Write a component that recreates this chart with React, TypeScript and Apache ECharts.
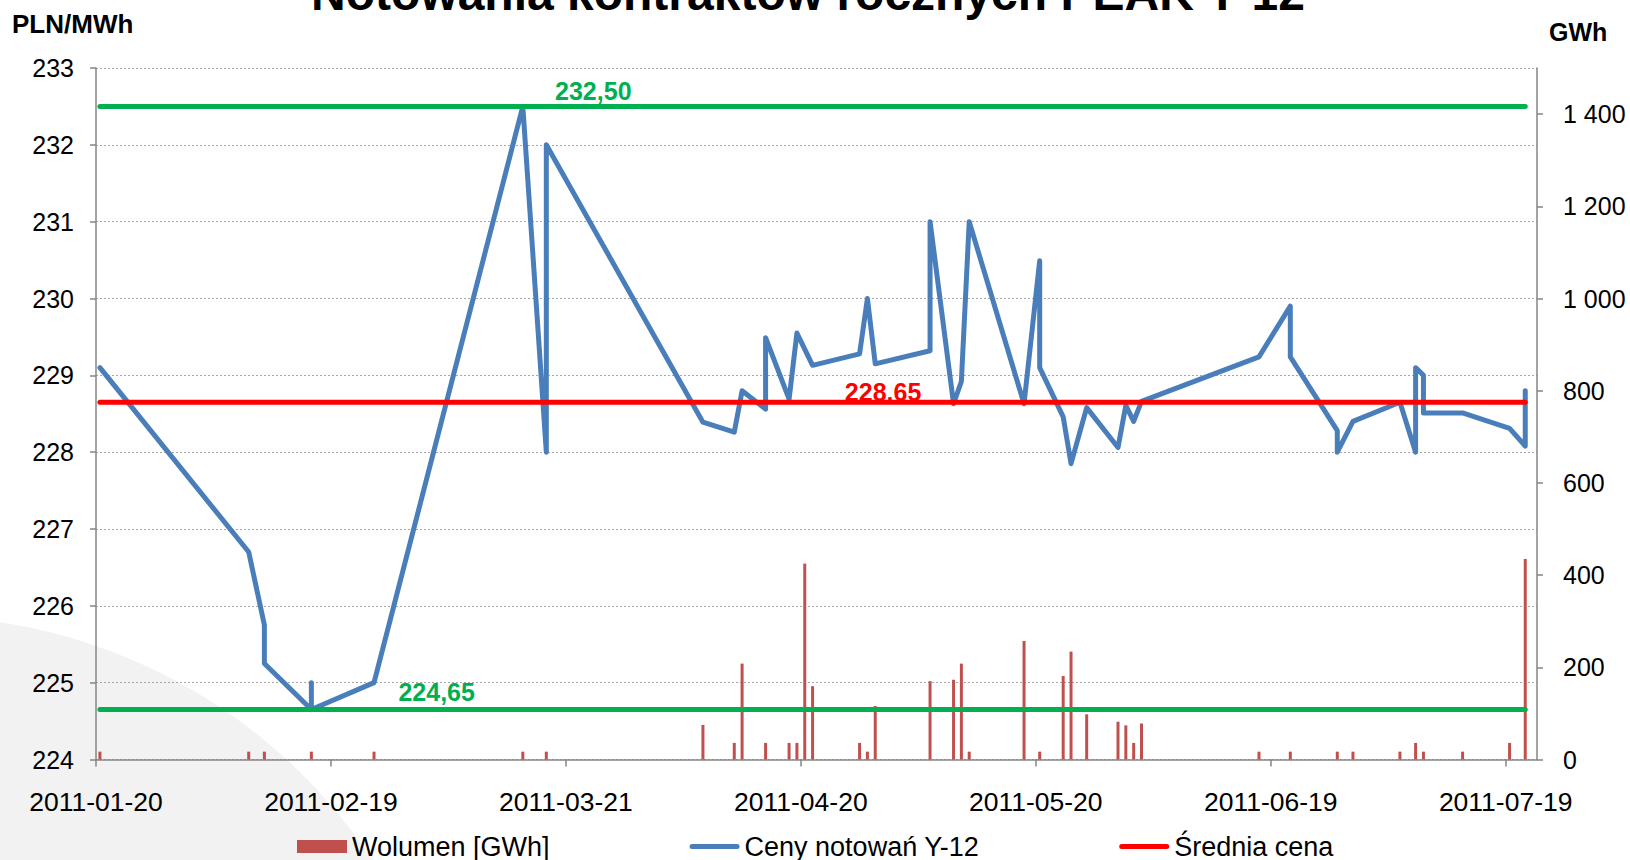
import React, { useEffect, useRef } from 'react';
import * as echarts from 'echarts';

// ---- data ----
const startDate = '2011-01-20';
const axisEndDate = '2011-07-23';
const xTickDates = ['2011-01-20', '2011-02-19', '2011-03-21', '2011-04-20', '2011-05-20', '2011-06-19', '2011-07-19'];

const priceDates = [
  '2011-01-20', '2011-02-08', '2011-02-10', '2011-02-10', '2011-02-16', '2011-02-16', '2011-02-16',
  '2011-02-24', '2011-03-15', '2011-03-18', '2011-03-18', '2011-04-07', '2011-04-11', '2011-04-12',
  '2011-04-15', '2011-04-15', '2011-04-18', '2011-04-19', '2011-04-21', '2011-04-27', '2011-04-28',
  '2011-04-29', '2011-05-06', '2011-05-06', '2011-05-09', '2011-05-10', '2011-05-11', '2011-05-18',
  '2011-05-20', '2011-05-20', '2011-05-23', '2011-05-24', '2011-05-26', '2011-05-30', '2011-05-31',
  '2011-06-01', '2011-06-02', '2011-06-17', '2011-06-21', '2011-06-21', '2011-06-27', '2011-06-27',
  '2011-06-29', '2011-07-05', '2011-07-07', '2011-07-07', '2011-07-08', '2011-07-08', '2011-07-13',
  '2011-07-19', '2011-07-21', '2011-07-21',
];
const priceValues = [
  229.1, 226.7, 225.75, 225.25, 224.65, 225.0, 224.65,
  225.0, 232.5, 228.0, 232.0, 228.39, 228.26, 228.8,
  228.56, 229.49, 228.69, 229.55, 229.13, 229.28, 230.0,
  229.15, 229.32, 231.0, 228.63, 228.92, 231.0, 228.63,
  230.49, 229.1, 228.46, 227.85, 228.58, 228.06, 228.61,
  228.4, 228.66, 229.24, 229.9, 229.24, 228.28, 228.0,
  228.4, 228.65, 228.0, 229.1, 229.0, 228.51, 228.51,
  228.31, 228.08, 228.8,
];

const volumeDates = [
  '2011-01-20', '2011-02-08', '2011-02-10', '2011-02-16', '2011-02-24', '2011-03-15', '2011-03-18',
  '2011-04-07', '2011-04-11', '2011-04-12', '2011-04-15', '2011-04-18', '2011-04-19', '2011-04-20',
  '2011-04-21', '2011-04-27', '2011-04-28', '2011-04-29', '2011-05-06', '2011-05-09', '2011-05-10',
  '2011-05-11', '2011-05-18', '2011-05-20', '2011-05-23', '2011-05-24', '2011-05-26', '2011-05-30',
  '2011-05-31', '2011-06-01', '2011-06-02', '2011-06-17', '2011-06-21', '2011-06-27', '2011-06-29',
  '2011-07-05', '2011-07-07', '2011-07-08', '2011-07-13', '2011-07-19', '2011-07-21',
];
const volumeValues = [
  17, 17, 17, 17, 17, 17, 17,
  75, 36, 208, 36, 36, 36, 425,
  159, 36, 17, 116, 170, 173, 208,
  17, 257, 17, 181, 234, 98, 82,
  74, 36, 78, 17, 17, 17, 17,
  17, 36, 17, 17, 36, 435,
];

const avgPrice = 228.65;
const maxPrice = 232.5;
const minPrice = 224.65;
const avgLabel = '228.65';
const maxLabel = '232,50';
const minLabel = '224,65';

const leftMin = 224;
const leftMax = 233;
const rightMax = 1500;
const rightTicks = [0, 200, 400, 600, 800, 1000, 1200, 1400];

const title = 'Notowania kontraktów rocznych PEAK Y-12';
const leftUnit = 'PLN/MWh';
const rightUnit = 'GWh';
const nameVolume = 'Wolumen [GWh]';
const namePrice = 'Ceny notowań Y-12';
const nameAvg = 'Średnia cena';

// ---- helpers ----
const DAY = 86400000;
const toUTC = (s: string) => {
  const [y, m, d] = s.split('-').map(Number);
  return Date.UTC(y, m - 1, d);
};
const dayOf = (s: string) => (toUTC(s) - toUTC(startDate)) / DAY;
const slot = (s: string) => dayOf(s) + 0.5; // Excel date axis: value centred in its day slot
const dateOf = (v: number) => new Date(toUTC(startDate) + Math.round(v) * DAY).toISOString().slice(0, 10);
const spaced = (v: number) => String(v).replace(/\B(?=(\d{3})+(?!\d))/g, ' ');

const FONT = '"Liberation Sans", Arial, sans-serif';
// thick rounded line icon inside a 50x13 box (tiny corner dots keep the box size)
const LINE_ICON =
  'path://M0,0L0.01,0L0,0.01ZM2.5,4H47.5A2.5,2.5 0 0 1 47.5,9H2.5A2.5,2.5 0 0 1 2.5,4ZM50,13L49.99,13L50,12.99Z';

export default function App() {
  const ref = useRef<HTMLDivElement>(null);

  useEffect(() => {
    if (!ref.current) return;
    const chart = echarts.init(ref.current, undefined, { renderer: 'svg' });

    const firstX = slot(priceDates[0]);
    const lastX = slot(priceDates[priceDates.length - 1]);
    const xTicks = xTickDates.map(dayOf);

    const refLine = (name: string, value: number, color: string, z: number, text: string, at: string, dist: number) => ({
      name,
      type: 'line',
      yAxisIndex: 0,
      data: [[firstX, value], [lastX, value]],
      symbol: 'none',
      silent: true,
      z,
      itemStyle: { color },
      lineStyle: { color, width: 5, cap: 'round' },
      markPoint: {
        symbol: 'rect',
        symbolSize: 1,
        itemStyle: { color: 'rgba(0,0,0,0)' },
        label: {
          show: true,
          position: 'top',
          distance: dist,
          formatter: text,
          color,
          fontWeight: 'bold',
          fontSize: 25,
          fontFamily: FONT,
        },
        data: [{ coord: [slot(at), value] }],
      },
    });

    const option: any = {
      animation: false,
      backgroundColor: '#ffffff',
      textStyle: { fontFamily: FONT },
      grid: { left: 96, right: 93, top: 68, bottom: 100.5, containLabel: false },
      graphic: [
        {
          type: 'circle',
          shape: { cx: -82, cy: 1161, r: 545 },
          style: { fill: '#f2f2f2' },
          z: -10,
          silent: true,
        },
        {
          type: 'text',
          x: 808,
          y: -6.6,
          style: { text: title, font: `bold 48px ${FONT}`, fill: '#000', textAlign: 'center', textVerticalAlign: 'middle' },
        },
        {
          type: 'text',
          x: 12,
          y: 24,
          style: { text: leftUnit, font: `bold 26px ${FONT}`, fill: '#000', textAlign: 'left', textVerticalAlign: 'middle' },
        },
        {
          type: 'text',
          x: 1549,
          y: 31.5,
          style: { text: rightUnit, font: `bold 25px ${FONT}`, fill: '#000', textAlign: 'left', textVerticalAlign: 'middle' },
        },
      ],
      legend: {
        left: 292,
        top: 828,
        itemGap: 140,
        itemWidth: 50,
        itemHeight: 13,
        textStyle: { fontSize: 27, fontFamily: FONT, color: '#000' },
        data: [
          { name: nameVolume, icon: 'rect' },
          { name: namePrice, icon: LINE_ICON, itemStyle: { color: '#4a7ebb' } },
          { name: nameAvg, icon: LINE_ICON, itemStyle: { color: '#ff0000' } },
        ],
      },
      xAxis: {
        type: 'value',
        min: 0,
        max: dayOf(axisEndDate),
        axisLine: { show: true, onZero: false, lineStyle: { color: '#868686', width: 1.5 } },
        axisTick: { show: true, customValues: xTicks, length: 7, lineStyle: { color: '#868686', width: 1.5 } },
        axisLabel: {
          customValues: xTicks,
          formatter: (v: number) => dateOf(v),
          fontSize: 26.5,
          color: '#000',
          margin: 29,
          fontFamily: FONT,
        },
        splitLine: { show: false },
      },
      yAxis: [
        {
          type: 'value',
          position: 'left',
          min: leftMin,
          max: leftMax,
          interval: 1,
          axisLine: { show: true, lineStyle: { color: '#868686', width: 1.5 } },
          axisTick: { show: true, length: 6, lineStyle: { color: '#868686', width: 1.5 } },
          axisLabel: { fontSize: 25, color: '#000', margin: 22, fontFamily: FONT },
          splitLine: { show: true, lineStyle: { type: [2, 2], color: '#a6a6a6', width: 1 } },
        },
        {
          type: 'value',
          position: 'right',
          min: 0,
          max: rightMax,
          axisLine: { show: true, lineStyle: { color: '#868686', width: 1.5 } },
          axisTick: { show: true, customValues: rightTicks, length: 6, lineStyle: { color: '#868686', width: 1.5 } },
          axisLabel: {
            customValues: rightTicks,
            formatter: (v: number) => spaced(v),
            fontSize: 25,
            color: '#000',
            margin: 26,
            fontFamily: FONT,
          },
          splitLine: { show: false },
        },
      ],
      series: [
        {
          name: nameVolume,
          type: 'bar',
          yAxisIndex: 1,
          barWidth: 3,
          z: 1,
          itemStyle: { color: '#c0504d' },
          data: volumeDates.map((d, i) => [slot(d), volumeValues[i]]),
        },
        {
          name: namePrice,
          type: 'line',
          yAxisIndex: 0,
          symbol: 'none',
          z: 2,
          itemStyle: { color: '#4a7ebb' },
          lineStyle: { color: '#4a7ebb', width: 5, join: 'round', cap: 'round' },
          data: priceDates.map((d, i) => [slot(d), priceValues[i]]),
        },
        refLine(nameAvg, avgPrice, '#ff0000', 3, avgLabel, '2011-04-30', -3),
        refLine('max', maxPrice, '#00b050', 4, maxLabel, '2011-03-24', 2),
        refLine('min', minPrice, '#00b050', 4, minLabel, '2011-03-04', 5),
      ],
    };

    chart.setOption(option);
    return () => chart.dispose();
  }, []);

  return (
    <div
      ref={ref}
      style={{ position: 'fixed', left: 0, top: 0, width: '1630px', height: '860px', background: '#fff' }}
    />
  );
}
